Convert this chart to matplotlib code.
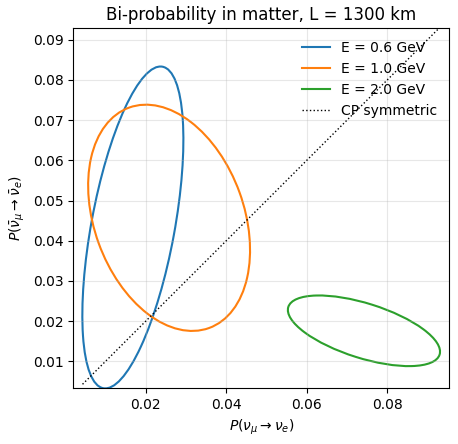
import matplotlib
matplotlib.use("Agg")
import matplotlib.pyplot as plt
from matplotlib.patches import Ellipse
from matplotlib.lines import Line2D

# ellipse: centre, full width/height, tilt (deg)
energies = [0.6, 1.0, 2.0]
centers = [(0.0168, 0.0433), (0.0258, 0.0457), (0.0742, 0.0176)]
widths = [0.0813, 0.0583, 0.0394]
heights = [0.0207, 0.0372, 0.0136]
angles = [79.6, -70.1, -17.5]
colors = ["tab:blue", "tab:orange", "tab:green"]

cp_line = [0.0043, 0.096]

fig = plt.figure(figsize=(4.58, 4.44), dpi=100)
ax = fig.add_axes([0.160, 0.126, 0.821, 0.810])

handles = []
for e, c, w, h, a, col in zip(energies, centers, widths, heights, angles, colors):
  ell = Ellipse(c, w, h, angle=a, fill=False, edgecolor=col, lw=1.5)
  ax.add_patch(ell)
  handles.append(Line2D([], [], color=col, lw=1.5, label="E = %.1f GeV" % e))

cp, = ax.plot(cp_line, cp_line, "k:", lw=1, label="CP symmetric")
handles.append(cp)

ax.set_xlim(0.0020, 0.0954)
ax.set_ylim(0.00336, 0.0928)
ax.set_xticks([0.02, 0.04, 0.06, 0.08])
ax.set_yticks([0.01, 0.02, 0.03, 0.04, 0.05, 0.06, 0.07, 0.08, 0.09])
ax.grid(True, alpha=0.3)
ax.set_title("Bi-probability in matter, L = 1300 km")
ax.set_xlabel(r"$P(\nu_\mu \to \nu_e)$")
ax.set_ylabel(r"$P(\bar{\nu}_\mu \to \bar{\nu}_e)$")
ax.legend(handles=handles, loc="upper right", frameon=False)

plt.savefig("out.png")
